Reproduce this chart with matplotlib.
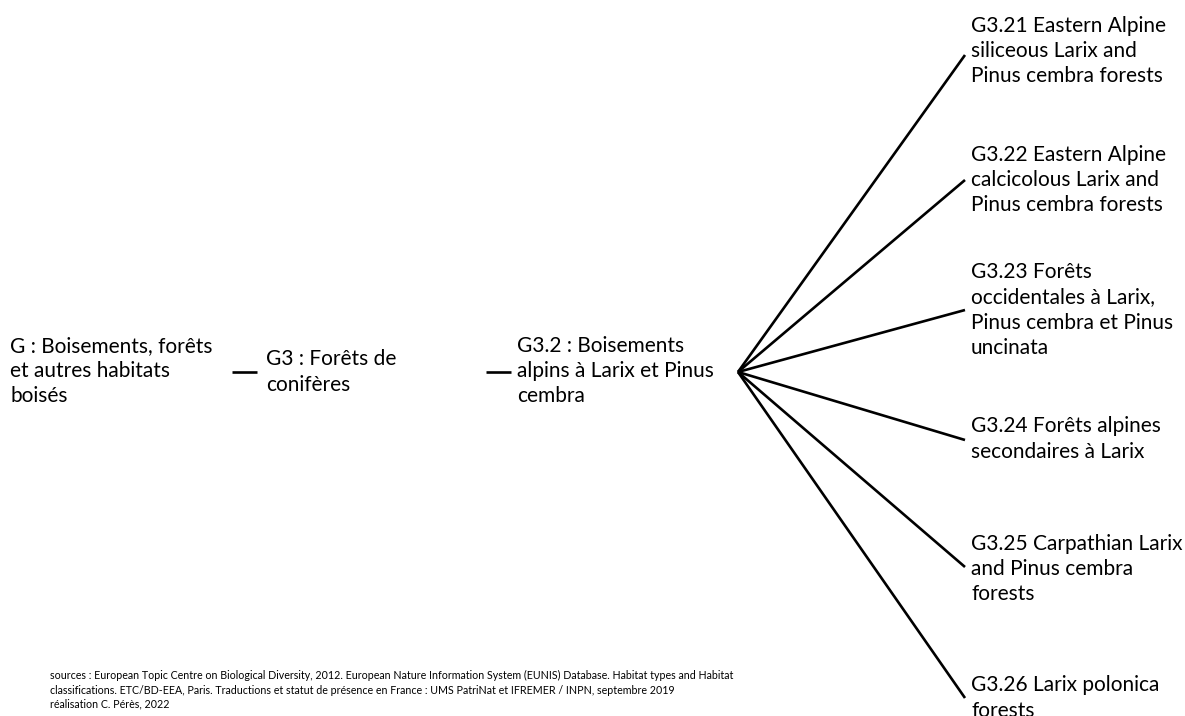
import matplotlib.pyplot as plt

# hierarchy (EUNIS G3.2)
chain = ["G : Boisements, forêts\net autres habitats\nboisés",
         "G3 : Forêts de\nconifères",
         "G3.2 : Boisements\nalpins à Larix et Pinus\ncembra"]
leaves = ["G3.21 Eastern Alpine\nsiliceous Larix and\nPinus cembra forests",
          "G3.22 Eastern Alpine\ncalcicolous Larix and\nPinus cembra forests",
          "G3.23 Forêts\noccidentales à Larix,\nPinus cembra et Pinus\nuncinata",
          "G3.24 Forêts alpines\nsecondaires à Larix",
          "G3.25 Carpathian Larix\nand Pinus cembra\nforests",
          "G3.26 Larix polonica\nforests"]
source = ("sources : European Topic Centre on Biological Diversity, 2012. European Nature Information System (EUNIS) "
          "Database. Habitat types and Habitat\nclassifications. ETC/BD-EEA, Paris. Traductions et statut de présence "
          "en France : UMS PatriNat et IFREMER / INPN, septembre 2019\nréalisation C. Pérès, 2022")

# layout (pixel space)
chain_x = [10, 266, 517]
chain_y = [371, 372, 371]
dash_x = [(232, 257), (486, 511)]
root_y = 372
hub = (738, 372)
leaf_x = 965
leaf_text_x = 971
leaf_line_y = [55, 180, 310, 440, 567, 698]
leaf_text_y = [51, 180, 310, 439, 569, 698]

plt.rcParams['font.family'] = ['Lato', 'DejaVu Sans']
fig = plt.figure(figsize=(11.85, 7.16), dpi=100)
ax = fig.add_axes([0, 0, 1, 1])
ax.set_xlim(0, 1185)
ax.set_ylim(716, 0)
ax.axis('off')

fs = 15.0
ls = 1.32
for x, y, t in zip(chain_x, chain_y, chain):
    ax.text(x, y, t, ha='left', va='center', fontsize=fs, linespacing=ls, color='black')
for x0, x1 in dash_x:
    ax.plot([x0, x1], [root_y, root_y], color='black', lw=1.9, solid_capstyle='butt')

for ly, ty, t in zip(leaf_line_y, leaf_text_y, leaves):
    ax.plot([hub[0], leaf_x], [hub[1], ly], color='black', lw=1.9, solid_capstyle='butt')
    ax.text(leaf_text_x, ty, t, ha='left', va='center', fontsize=fs, linespacing=ls,
            color='black', clip_on=False)

ax.text(50, 690, source, ha='left', va='center', fontsize=7.7, linespacing=1.35, color='black')

fig.savefig("out.png", dpi=100)
